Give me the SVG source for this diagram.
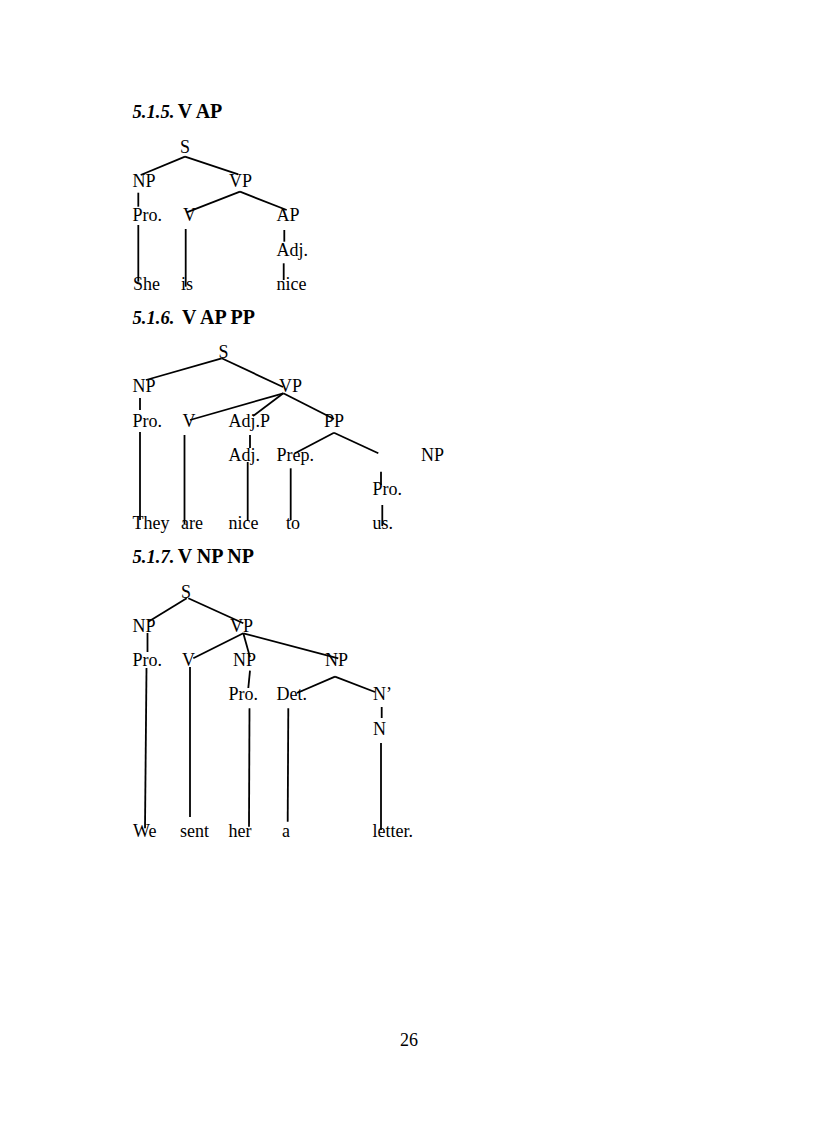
<svg xmlns="http://www.w3.org/2000/svg" width="816" height="1123" viewBox="0 0 816 1123">
<style>
text { font-family: "Liberation Serif", "Times New Roman", serif; font-size: 18px; fill: #000; }
.h { font-weight: bold; font-size: 20px; }
.hi { font-weight: bold; font-style: italic; font-size: 18.6px; }
.e line { stroke: #000; stroke-width: 1.8; stroke-linecap: butt; }
</style>
<rect width="816" height="1123" fill="#fff"/>

<!-- Tree 1 -->
<g id="heading1"><text x="132.5" y="117.8"><tspan class="hi">5.1.5.</tspan><tspan class="h" x="177.7">V AP</tspan></text></g>
<g id="t1-S"><text x="180" y="152.5">S</text></g>
<g id="t1-NP"><text x="132.5" y="187">NP</text></g>
<g id="t1-VP"><text x="229" y="187">VP</text></g>
<g id="t1-Pro"><text x="132.5" y="221">Pro.</text></g>
<g id="t1-V"><text x="183" y="221">V</text></g>
<g id="t1-AP"><text x="276.5" y="221">AP</text></g>
<g id="t1-Adj"><text x="276.5" y="255.5">Adj.</text></g>
<g id="t1-She"><text x="133" y="289.5">She</text></g>
<g id="t1-is"><text x="181" y="289.5">is</text></g>
<g id="t1-nice"><text x="276.5" y="289.5">nice</text></g>

<!-- Tree 2 -->
<g id="heading2"><text x="132.5" y="324"><tspan class="hi">5.1.6.</tspan><tspan class="h" x="182">V AP PP</tspan></text></g>
<g id="t2-S"><text x="218.5" y="358">S</text></g>
<g id="t2-NP"><text x="132.5" y="392">NP</text></g>
<g id="t2-VP"><text x="279" y="392">VP</text></g>
<g id="t2-Pro"><text x="132.5" y="426.5">Pro.</text></g>
<g id="t2-V"><text x="182.5" y="426.5">V</text></g>
<g id="t2-AdjP"><text x="228.5" y="426.5">Adj.P</text></g>
<g id="t2-PP"><text x="324" y="426.5">PP</text></g>
<g id="t2-Adj"><text x="228.5" y="460.5">Adj.</text></g>
<g id="t2-Prep"><text x="276.5" y="460.5">Prep.</text></g>
<g id="t2-NP2"><text x="421" y="460.5">NP</text></g>
<g id="t2-Pro2"><text x="372.5" y="494.5">Pro.</text></g>
<g id="t2-They"><text x="132.5" y="528.5">They</text></g>
<g id="t2-are"><text x="181" y="528.5">are</text></g>
<g id="t2-nice"><text x="228.5" y="528.5">nice</text></g>
<g id="t2-to"><text x="286" y="528.5">to</text></g>
<g id="t2-us"><text x="372.5" y="528.5">us.</text></g>

<!-- Tree 3 -->
<g id="heading3"><text x="132.5" y="563"><tspan class="hi">5.1.7.</tspan><tspan class="h" x="177.7">V NP NP</tspan></text></g>
<g id="t3-S"><text x="181" y="597.5">S</text></g>
<g id="t3-NP"><text x="132.5" y="631.5">NP</text></g>
<g id="t3-VP"><text x="230" y="631.5">VP</text></g>
<g id="t3-Pro"><text x="132.5" y="666">Pro.</text></g>
<g id="t3-V"><text x="182" y="666">V</text></g>
<g id="t3-NP2"><text x="233" y="666">NP</text></g>
<g id="t3-NP3"><text x="325" y="666">NP</text></g>
<g id="t3-Pro2"><text x="228.5" y="700">Pro.</text></g>
<g id="t3-Det"><text x="276.5" y="700">Det.</text></g>
<g id="t3-Nbar"><text x="373" y="700">N’</text></g>
<g id="t3-N"><text x="373" y="734.5">N</text></g>
<g id="t3-We"><text x="133" y="837">We</text></g>
<g id="t3-sent"><text x="180" y="837">sent</text></g>
<g id="t3-her"><text x="228.5" y="837">her</text></g>
<g id="t3-a"><text x="282" y="837">a</text></g>
<g id="t3-letter"><text x="372.5" y="837">letter.</text></g>

<g id="page-number"><text x="400" y="1046">26</text></g>

<g id="connectors" class="e">
  <!-- tree 1 -->
  <line x1="185" y1="156.7" x2="140.7" y2="175"/>
  <line x1="185" y1="156.7" x2="238.3" y2="174.3"/>
  <line x1="240" y1="191.7" x2="186.7" y2="212.3"/>
  <line x1="240" y1="191.7" x2="286.7" y2="210"/>
  <line x1="138.3" y1="192.7" x2="138.3" y2="206.7"/>
  <line x1="138.3" y1="225" x2="138.3" y2="281.7"/>
  <line x1="185.7" y1="229" x2="185.7" y2="286.7"/>
  <line x1="284.3" y1="230" x2="284.3" y2="241.7"/>
  <line x1="283.7" y1="263.3" x2="283.7" y2="280"/>
  <!-- tree 2 -->
  <line x1="221.7" y1="358.3" x2="146" y2="380"/>
  <line x1="221.7" y1="358.3" x2="283" y2="387"/>
  <line x1="283.3" y1="393.3" x2="190" y2="420"/>
  <line x1="283.3" y1="393.3" x2="253" y2="416"/>
  <line x1="283.3" y1="393.3" x2="334" y2="419"/>
  <line x1="334" y1="432.7" x2="295" y2="453.3"/>
  <line x1="334" y1="432.7" x2="378.3" y2="453.3"/>
  <line x1="140" y1="398" x2="140" y2="410"/>
  <line x1="140" y1="432" x2="140" y2="520"/>
  <line x1="184.5" y1="435" x2="184.5" y2="524"/>
  <line x1="250" y1="435" x2="250" y2="448"/>
  <line x1="247.7" y1="462" x2="247.7" y2="521"/>
  <line x1="290.7" y1="468.3" x2="290.7" y2="520"/>
  <line x1="381" y1="471.7" x2="381" y2="485"/>
  <line x1="382.3" y1="505" x2="382.3" y2="526"/>
  <!-- tree 3 -->
  <line x1="186.7" y1="598.3" x2="148.3" y2="621.7"/>
  <line x1="188.3" y1="598.3" x2="243.3" y2="623.3"/>
  <line x1="243.3" y1="633.3" x2="193.3" y2="658.3"/>
  <line x1="243.3" y1="633.3" x2="250" y2="657.3"/>
  <line x1="243.3" y1="633.3" x2="338.3" y2="658.3"/>
  <line x1="147.5" y1="633" x2="147.5" y2="652"/>
  <line x1="146.5" y1="668" x2="145" y2="828.3"/>
  <line x1="190" y1="667" x2="190" y2="817"/>
  <line x1="250" y1="670.7" x2="248.3" y2="688"/>
  <line x1="249.5" y1="708.3" x2="249" y2="826.7"/>
  <line x1="335" y1="676.7" x2="297" y2="693"/>
  <line x1="335" y1="676.7" x2="375" y2="692"/>
  <line x1="288.3" y1="708.3" x2="287.7" y2="821.7"/>
  <line x1="381.7" y1="707" x2="381.7" y2="718"/>
  <line x1="381" y1="743" x2="381" y2="830"/>
</g>
</svg>
